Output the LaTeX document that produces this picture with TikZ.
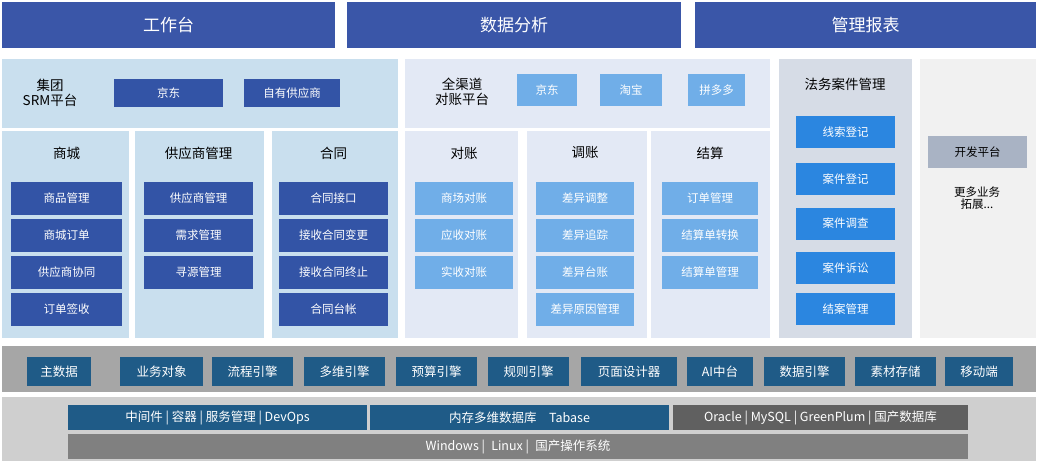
\documentclass[tikz,border=0pt]{standalone}
\usepackage{fontspec}
\setmainfont{Noto Sans CJK SC}
\definecolor{hdblue}{HTML}{3A56A8}
\definecolor{srmbg}{HTML}{C9DFEE}
\definecolor{chbg}{HTML}{E3E9F5}
\definecolor{lawbg}{HTML}{D6DCE6}
\definecolor{morebg}{HTML}{F1F1F1}
\definecolor{darkitem}{HTML}{3354A6}
\definecolor{lightitem}{HTML}{70AEE8}
\definecolor{lawitem}{HTML}{2B86E0}
\definecolor{devgray}{HTML}{A9B3C4}
\definecolor{baseblue}{HTML}{1F5B87}
\tikzset{
  hdbox/.style={fill=hdblue, text=white, font=\fontsize{17}{20}\selectfont},
  ttl/.style={font=\fontsize{13.5}{15}\selectfont},
  item/.style={fill=#1, text=white, font=\fontsize{11.5}{13}\selectfont},
}
\begin{document}
\begin{tikzpicture}[x=1pt, y=-1pt]
\useasboundingbox (0,0) rectangle (1038,464);
% top headers
\foreach \xa/\xb/\txt [count=\i] in {2/335/工作台, 347/681/数据分析, 695/1036/管理报表}
  \node[hdbox, minimum width=\xb-\xa, minimum height=46, anchor=north west] (hd\i) at (\xa,2) {\txt};
% panels
\fill[srmbg] (2,59) rectangle (398,128);
\fill[chbg] (405,59) rectangle (770,128);
\fill[lawbg] (779,59) rectangle (912,338);
\fill[morebg] (920,59) rectangle (1036,338);
\foreach \xa/\xb/\c in {2/129/srmbg, 135/264/srmbg, 272/398/srmbg, 405/518/chbg, 527/647/chbg, 651/770/chbg}
  \fill[\c] (\xa,131) rectangle (\xb,338);
% platform rows
\node[ttl, align=center, inner sep=0pt] (srm) at (50,93) {集团\\SRM平台};
\node[item=darkitem, minimum width=109, minimum height=28] (jd) at (168.5,93) {京东};
\node[item=darkitem, minimum width=96, minimum height=28] (own) at (292,93) {自有供应商};
\node[ttl, align=center, inner sep=0pt] (ch) at (462,92) {全渠道\\对账平台};
\foreach \xc/\w/\txt [count=\i] in {547/60/京东, 631/62/淘宝, 716.5/57/拼多多}
  \node[item=lightitem, minimum width=\w, minimum height=32] (ch\i) at (\xc,90) {\txt};
% columns
\foreach \xc/\w/\c/\name/\items [count=\k] in {
  66.5/111/darkitem/商城/{商品管理,商城订单,供应商协同,订单签收},
  198.5/109/darkitem/供应商管理/{供应商管理,需求管理,寻源管理},
  333.5/109/darkitem/合同/{合同接口,接收合同变更,接收合同终止,合同台帐},
  464/98/lightitem/对账/{商场对账,应收对账,实收对账},
  585/98/lightitem/调账/{差异调整,差异追踪,差异台账,差异原因管理},
  710/96/lightitem/结算/{订单管理,结算单转换,结算单管理}} {
  \node[ttl] (col\k) at (\xc,153) {\name};
  \foreach \t [count=\j] in \items
    \node[item=\c, minimum width=\w, minimum height=33] (col\k-\j) at (\xc,161+37*\j) {\t};
}
% law
\node[ttl] (law) at (845,84) {法务案件管理};
\foreach \yc/\txt [count=\j] in {132/线索登记, 179/案件登记, 223.5/案件调查, 268/案件诉讼, 309/结案管理}
  \node[item=lawitem, minimum width=99, minimum height=32] (law\j) at (845.5,\yc) {\txt};
\node[fill=devgray, minimum width=99, minimum height=32, font=\fontsize{11.5}{13}\selectfont] (dev) at (977.5,152) {开发平台};
\node[align=center, inner sep=0pt, font=\fontsize{11.5}{12}\selectfont] (more) at (977,198) {更多业务\\拓展...};
% base layers
\fill[gray!70] (2,346) rectangle (1036,392);
\foreach \xa/\xb/\txt [count=\i] in {27/91/主数据, 120/203/业务对象, 212/293/流程引擎, 304/385/多维引擎, 396/477/预算引擎, 488/569/规则引擎, 581/677/页面设计器, 687/753/AI中台, 764/845/数据引擎, 855/936/素材存储, 945/1013/移动端}
  \node[item=baseblue, font=\fontsize{12.5}{14}\selectfont, minimum width=\xb-\xa, minimum height=29] (b\i) at ({(\xa+\xb)/2},371.5) {\txt};
\fill[gray!38] (2,397) rectangle (1036,461);
\tikzset{low/.style={item=#1, font=\fontsize{12.5}{14}\selectfont, minimum height=25}}
\node[low=baseblue, minimum width=299] (mw) at (217.5,417.5) {中间件 | 容器 | 服务管理 | DevOps};
\node[low=baseblue, minimum width=299] (mem) at (519.5,417.5) {内存多维数据库\quad Tabase};
\node[low=gray!75!black, minimum width=295] (db) at (820.5,417.5) {Oracle | MySQL | GreenPlum | 国产数据库};
\node[low=gray, minimum width=900] (os) at (518,446.5) {Windows |\enspace Linux |\enspace 国产操作系统};
\end{tikzpicture}
\end{document}
